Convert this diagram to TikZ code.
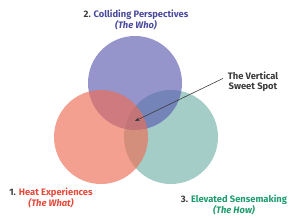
\documentclass[tikz,border=0pt]{standalone}
\usepackage{fontspec}
\setmainfont{Fira Sans}
\usetikzlibrary{arrows.meta}
\definecolor{whoc}{HTML}{5C5CB1}
\definecolor{whatc}{HTML}{EE6D55}
\definecolor{howc}{HTML}{72B2A8}
\definecolor{whotxt}{HTML}{4B4B9E}
\definecolor{whattxt}{HTML}{E5493A}
\definecolor{howtxt}{HTML}{1E9C6E}
\definecolor{ink}{HTML}{3A3A3A}
\tikzset{lbl/.style={align=center,inner sep=0pt,font=\fontsize{8}{8.8}\selectfont\bfseries,text=ink}}

\begin{document}
\begin{tikzpicture}[x=0.03cm,y=-0.03cm,>=Stealth]
\useasboundingbox (0,0) rectangle (295,219);
\fill[howc,opacity=.65] (171,137) circle(47);
\fill[whoc,opacity=.65] (135,83) circle(47);
\fill[whatc,opacity=.65] (101,137) circle(47);
\node[lbl] (who) at (136,20) {2. \textcolor{whotxt}{Colliding Perspectives}\\\textcolor{whotxt}{\itshape(The Who)}};
\node[lbl] (what) at (51,198) {1. \textcolor{whattxt}{Heat Experiences}\\\textcolor{whattxt}{\itshape(The What)}};
\node[lbl] (how) at (234,205) {3. \textcolor{howtxt}{Elevated Sensemaking}\\\textcolor{howtxt}{\itshape(The How)}};
\node[lbl] (sweet) at (253,82) {The Vertical\\Sweet Spot};
\coordinate (spot) at (135,121);
\draw[->,ink,line width=.5pt,>={Stealth[length=4pt,width=3pt]}] ([xshift=-4pt,yshift=3pt]sweet.west) -- (spot);
\end{tikzpicture}
\end{document}
